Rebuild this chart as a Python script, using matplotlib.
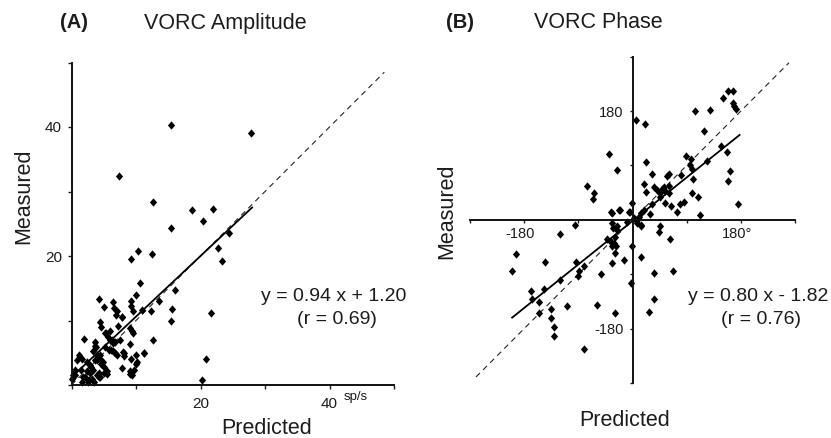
import matplotlib
matplotlib.use("Agg")
import matplotlib.pyplot as plt
from matplotlib.path import Path
from matplotlib.transforms import ScaledTranslation
import numpy as np

plt.rcParams['font.family'] = ['Liberation Sans', 'DejaVu Sans']

# ---------------- data: panel A (VORC amplitude, sp/s) ----------------
amp_pred = [15.4, 27.9, 7.4, 12.6, 18.7, 22.0, 15.5, 20.4, 24.4, 22.7, 23.4, 21.6, 20.8, 20.2,
            10.3, 9.3, 12.5, 10.6, 9.95, 9.2, 9.3, 9.5, 10.9, 12.4, 13.6, 16.0, 15.6, 15.5,
            12.7, 11.2, 10.0, 10.0, 9.7, 9.0, 9.2, 7.8, 9.0, 7.8, 6.4, 6.6, 7.0, 5.1, 4.3,
            4.4, 4.5, 5.4, 5.9, 7.2, 9.1, 9.4, 9.6, 8.0, 8.1, 7.5, 6.7, 6.2, 1.9, 6.0, 6.5,
            3.6, 3.7, 5.6, 5.8, 7.1, 11.2, 10.2, 9.4, 9.1,
            6.5, 8.2, 1.1, 1.6, 0.8, 2.4, 2.9, 3.7, 3.9, 4.4, 4.6, 5.1, 1.4, 2.4, 3.3, 4.2,
            5.0, 5.5, 0.6, 0.1, 2.1, 2.7, 3.2, 3.5, 1.6, 4.2, 6.8, 6.3, 5.2, 2.6, 1.8, 2.9,
            3.9, 4.4, 5.5, 0.3, 0.5, 3.1, 3.9, 4.4, 4.9, 3.4, 5.2, 3.8, 6.9, 7.9]
amp_meas = [40.3, 39.1, 32.4, 28.4, 27.2, 27.3, 24.4, 25.4, 23.5, 21.3, 19.2, 11.1, 4.0, 0.7,
            20.8, 19.6, 20.3, 15.8, 13.9, 13.0, 12.3, 11.4, 11.7, 11.4, 13.0, 14.7, 11.8, 10.0,
            7.0, 5.0, 4.6, 3.3, 2.4, 1.7, 4.1, 2.7, 6.3, 10.5, 12.8, 12.0, 11.5, 12.1, 13.3,
            9.8, 9.0, 8.0, 8.3, 9.1, 8.8, 8.3, 8.0, 5.1, 4.5, 7.0, 4.9, 5.4, 7.1, 7.0, 6.5,
            6.7, 6.0, 7.5, 5.4, 4.65, 4.9, 3.6, 1.55, 2.1,
            5.2, 4.9, 4.65, 4.1, 3.8, 3.6, 3.1, 3.9, 4.65, 4.1, 3.3, 2.8, 2.3, 2.1, 2.3, 1.8,
            1.8, 2.1, 1.55, 1.0, 1.3, 0.8, 1.0, 0.5, 0.5, 1.3, 6.6, 7.0, 8.0, 0.5, 1.3, 1.8,
            1.6, 1.3, 1.7, 1.6, 2.3, 2.8, 3.9, 4.7, 3.6, 5.2, 5.9, 5.9, 10.9, 10.6]
amp_slope, amp_icpt = 0.94, 1.20
amp_r = 0.69
amp_fit_x = [0, 28]
amp_unity_x = [0, 48.5]
amp_xticks = [0, 10, 20, 30, 40, 50]
amp_xticklabels = ['', '', '20', '', '40', '']
amp_yticks = [0, 10, 20, 30, 40, 50]
amp_yticklabels = ['', '', '20', '', '40', '']

# ---------------- data: panel B (VORC phase, deg) ----------------
ph_pred = [6.6, 20.4, -39.3, -26.5, -75.2, -64.1, -65.8, -21.0, -35.4, -6.1, -1.1, -95.7, 21.6,
           104, 129.4, 118.3, 150.4, 158.7, 167, 166.3, 169.2, 171.3, 147.6, 157, 161.4, 158.7,
           175.3, 123.8, 89.6, 97.8, 95.1, 99, 100.6, 99, 108.9, 111.7, 80.7, 60.3, 57.5, 32.6,
           18.8, 21.6, 35.4, 40.9, 49.2, 52, 54.7, 45.3, 46.4, 60.3, 60.3, 54.7, 64.7, 74.1,
           79.6, 85.1, 32.6, 28.7, 13.3, 18.8, 10.4, 7.7, 14.4, 46.4, -8.8, 2.2, 7.7,
           13.3, 44.8, 61.9, -0.6, 13.3, -13.3, 35.4, 67.4, -3.3, 35.4, 27.1,
           -121, -194, -199.6, -145.4, -94.5, -89, -90.1, -80.7, -121, -52, -42, -36.5, -31,
           -28.2, -33.7, -29.9, -25.4, -29.9, -33.7, -168, -147, -166.3, -155.4, -155.4, -136,
           -134.8, -130.5, -130.5, -109.5, -58.6, -29.9, -80.7, -33.7, -22.7, -4.5, -33.7,
           -25.4, -32.7]
ph_meas = [164.7, 159.2, 108.3, 82.9, 55.3, 44.2, 34.3, 16.6, 12.2, 13.8, 27.6, -8.3, 95.7,
           180.3, 181.3, 147.6, 201.2, 212.8, 212.8, 193.5, 187.9, 184.1, 122.2, 112.2, 81.3,
           64.2, 26.5, 96.7, 105.6, 101.2, 91.2, 84.6, 68, 44.2, 37.6, 7.2, 74.6, 76.3, 71.8,
           75.8, 59.7, 45.3, 53.6, 49.8, 50.9, 53.6, 48.1, 38.6, 44.3, 44.3, 55.3, 27.6, 22.1,
           13.8, 26.5, 29.4, 26.5, 9.9, 11.1, 16.6, 5.5, -5.5, -9.4, -9.4, -2.8, 2.8, 0,
           -8.3, -19.4, -31.5, -43.1, -60.8, -66.3, -87.4, -84, -104, -131.5, -152.6,
           -23.2, -56.4, -84.6, -70.2, -69.1, -84.6, -92.3, -76.3, -99.5, -90.1, -32, -36,
           -38.7, -43.1, -43.1, -27.6, -16.6, -55.3, -71.9, -117, -114.5, -131.5, -135.4,
           -153.6, -148.2, -163, -178, -192.4, -142.6, -141, -154.7, -214.4, 11.1, 16.6, 13.8,
           -4.4, -10, -13.8]
ph_slope, ph_icpt = 0.80, -1.82
ph_r = 0.76
ph_fit_x = [-200, 178]
ph_unity_x = [-260, 260]
ph_ticks = [-270, -180, -90, 0, 90, 180, 270]
ph_xticklabels = ['', '-180', '', '', '', '180°', '']
ph_yticklabels = ['', '-180', '', '', '', '180', '']

# ---------------- figure ----------------
W, H = 831, 438
fig = plt.figure(figsize=(W / 100, H / 100), dpi=100)

def fx(x):
    return x / W

def fy(y):
    return 1 - y / H

marker = Path([(0, 1), (0.86, 0), (0, -1), (-0.86, 0), (0, 1)],
              [Path.MOVETO, Path.LINETO, Path.LINETO, Path.LINETO, Path.CLOSEPOLY])
ms = 6.0
txtc = '#1c1c1c'

# Panel A
axA = fig.add_axes([fx(71.5), fy(385), (394 - 71.5) / W, (385 - 62.5) / H])
axA.set_xlim(0, 50)
axA.set_ylim(0, 50)
for s in ['top', 'right']:
    axA.spines[s].set_visible(False)
for s in ['left', 'bottom']:
    axA.spines[s].set_linewidth(1.4)
    axA.spines[s].set_color('#111111')
axA.set_xticks(amp_xticks)
axA.set_xticklabels(amp_xticklabels)
axA.set_yticks(amp_yticks)
axA.set_yticklabels(amp_yticklabels)
axA.tick_params(axis='x', direction='out', length=3, width=1, pad=6, labelsize=11, colors=txtc)
axA.tick_params(axis='y', direction='out', length=3, width=1, pad=4, labelsize=11, colors=txtc)
axA.patch.set_alpha(0)

ux = np.array(amp_unity_x)
axA.plot(ux, ux, color='#222222', lw=0.8, dashes=(5, 4), clip_on=False)
fxA = np.array(amp_fit_x)
axA.plot(fxA, amp_slope * fxA + amp_icpt, color='black', lw=1.3, clip_on=False)
axA.plot(amp_pred, amp_meas, linestyle='none', marker=marker, markersize=ms,
         color='black', markeredgewidth=0, clip_on=False)

# Panel B
axB = fig.add_axes([fx(470), fy(383), (795 - 470) / W, (383 - 56.7) / H])
axB.set_xlim(-270, 270)
axB.set_ylim(-270, 270)
for s in ['top', 'right']:
    axB.spines[s].set_visible(False)
for s in ['left', 'bottom']:
    axB.spines[s].set_position('zero')
    axB.spines[s].set_linewidth(1.4)
    axB.spines[s].set_color('#111111')
axB.set_xticks(ph_ticks)
axB.set_xticklabels(ph_xticklabels)
axB.set_yticks(ph_ticks)
axB.set_yticklabels(ph_yticklabels)
axB.tick_params(axis='x', direction='out', length=2.5, width=1, pad=3, labelsize=10.5, colors=txtc)
axB.tick_params(axis='y', direction='out', length=2.5, width=1, pad=4, labelsize=10.5, colors=txtc)
axB.patch.set_alpha(0)
shift = ScaledTranslation(-4 / 100, 0, fig.dpi_scale_trans)
for lab in axB.get_xticklabels():
    lab.set_transform(lab.get_transform() + shift)

ubx = np.array(ph_unity_x)
axB.plot(ubx, ubx, color='#222222', lw=0.8, dashes=(5, 4), clip_on=False)
fxB = np.array(ph_fit_x)
axB.plot(fxB, ph_slope * fxB + ph_icpt, color='black', lw=1.3, clip_on=False)
axB.plot(ph_pred, ph_meas, linestyle='none', marker=marker, markersize=ms,
         color='black', markeredgewidth=0, clip_on=False)

# ---------------- texts ----------------
fig.text(fx(74), fy(23), '(A)', fontsize=14.5, fontweight='bold', ha='center', va='center', color=txtc)
fig.text(fx(225), fy(23), 'VORC Amplitude', fontsize=15.5, ha='center', va='center', color=txtc)
fig.text(fx(460), fy(23), '(B)', fontsize=14.5, fontweight='bold', ha='center', va='center', color=txtc)
fig.text(fx(598), fy(23), 'VORC Phase', fontsize=15.5, ha='center', va='center', color=txtc)

fig.text(fx(23.5), fy(196.7), 'Measured', fontsize=15.5, rotation=90, ha='center', va='center', color=txtc)
fig.text(fx(267), fy(428), 'Predicted', fontsize=15.5, ha='center', va='center', color=txtc)
fig.text(fx(447), fy(211.5), 'Measured', fontsize=15.5, rotation=90, ha='center', va='center', color=txtc)
fig.text(fx(624.5), fy(420), 'Predicted', fontsize=15.5, ha='center', va='center', color=txtc)

fig.text(fx(356), fy(396.7), 'sp/s', fontsize=9.5, ha='center', va='center', color=txtc)

fig.text(fx(334), fy(296.7), f'y = {amp_slope:.2f} x + {amp_icpt:.2f}', fontsize=14,
         ha='center', va='center', color=txtc)
fig.text(fx(337), fy(320), f'(r = {amp_r:.2f})', fontsize=14, ha='center', va='center', color=txtc)
fig.text(fx(687.7), fy(296.7), f'y = {ph_slope:.2f} x - {abs(ph_icpt):.2f}', fontsize=14,
         ha='left', va='center', color=txtc)
fig.text(fx(761), fy(320), f'(r = {ph_r:.2f})', fontsize=14, ha='center', va='center', color=txtc)

fig.savefig('out.png', dpi=100)
